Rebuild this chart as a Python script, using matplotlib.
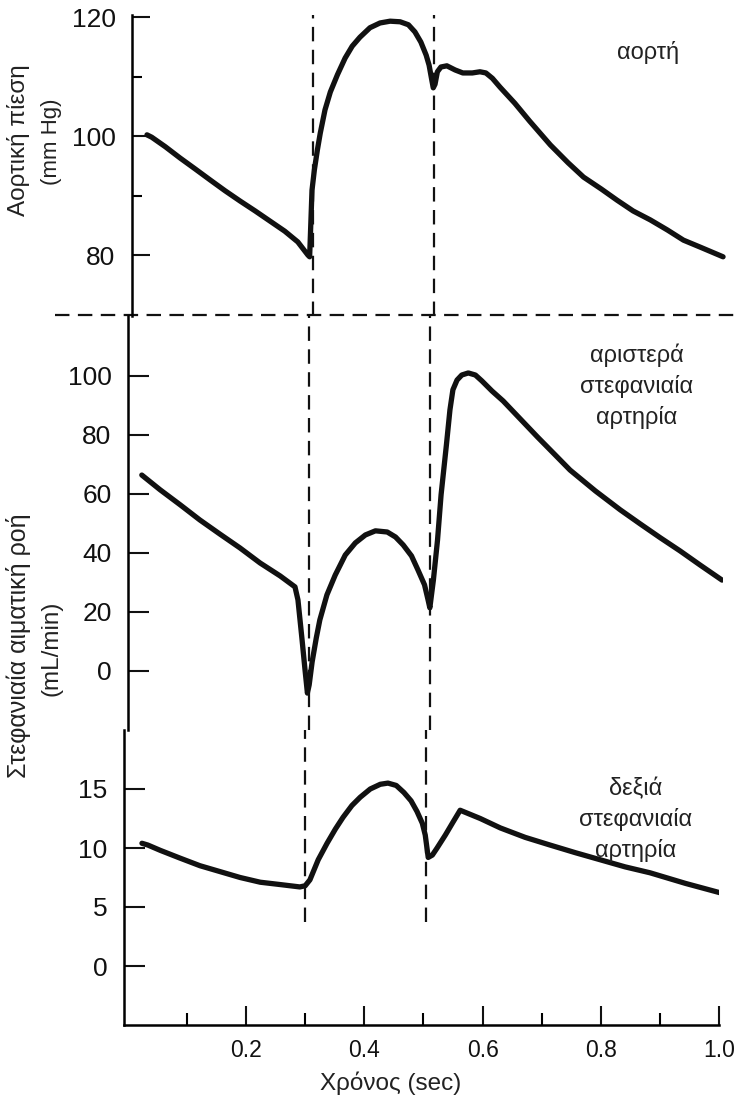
import matplotlib
matplotlib.use("Agg")
import matplotlib.pyplot as plt
from matplotlib.ticker import FixedLocator, NullFormatter

plt.rcParams['font.family'] = ['Liberation Sans', 'DejaVu Sans']

# === 数据 ===
aorta_t = [0.019, 0.027, 0.050, 0.075, 0.100, 0.126, 0.151, 0.176, 0.202, 0.227, 0.252,
           0.274, 0.291, 0.294, 0.298, 0.302, 0.307, 0.312, 0.320, 0.329, 0.341, 0.354,
           0.366, 0.379, 0.396, 0.413, 0.430, 0.447, 0.461, 0.472, 0.482, 0.491, 0.496,
           0.500, 0.503, 0.506, 0.510, 0.516, 0.526, 0.540, 0.553, 0.569, 0.582, 0.592,
           0.603, 0.616, 0.641, 0.666, 0.701, 0.731, 0.757, 0.787, 0.814, 0.841, 0.870,
           0.899, 0.926, 0.955, 0.993]
aorta_p = [100.2, 99.8, 98.2, 96.3, 94.5, 92.6, 90.8, 89.1, 87.4, 85.7, 84.0,
           82.2, 80.0, 79.7, 90.9, 94.3, 97.6, 100.5, 104.4, 107.4, 110.3, 113.1,
           115.1, 116.6, 118.2, 119.0, 119.3, 119.2, 118.7, 117.5, 115.8, 113.6, 111.9,
           109.7, 108.1, 108.7, 110.8, 111.6, 111.8, 111.1, 110.6, 110.6, 110.8, 110.6,
           109.7, 108.2, 105.5, 102.5, 98.5, 95.5, 93.1, 91.1, 89.2, 87.4, 85.9,
           84.2, 82.5, 81.3, 79.7]

left_t = [0.017, 0.048, 0.082, 0.115, 0.149, 0.183, 0.217, 0.251, 0.276, 0.281, 0.288,
          0.293, 0.297, 0.300, 0.305, 0.312, 0.318, 0.330, 0.344, 0.361, 0.378, 0.395,
          0.412, 0.432, 0.446, 0.459, 0.473, 0.484, 0.495, 0.501, 0.504, 0.510, 0.517,
          0.523, 0.532, 0.538, 0.543, 0.550, 0.558, 0.569, 0.581, 0.592, 0.609, 0.628,
          0.657, 0.686, 0.716, 0.741, 0.784, 0.826, 0.860, 0.894, 0.927, 0.961, 0.998]
left_q = [66.4, 61.4, 56.3, 51.2, 46.4, 41.7, 36.6, 32.2, 28.5, 24.1, 10.5,
          0.3, -7.5, -4.7, 3.1, 11.2, 17.3, 25.8, 32.5, 39.3, 43.4, 46.1,
          47.5, 47.1, 45.4, 42.7, 39.0, 34.2, 29.2, 24.1, 21.4, 30.8, 44.4,
          59.7, 76.6, 88.5, 95.3, 98.6, 100.3, 101.0, 100.3, 98.3, 94.9, 91.5,
          85.4, 79.3, 73.2, 68.1, 61.0, 54.6, 49.8, 45.1, 40.7, 35.9, 30.8]

right_t = [0.024, 0.034, 0.055, 0.088, 0.122, 0.156, 0.190, 0.224, 0.258, 0.291, 0.300,
           0.308, 0.322, 0.337, 0.351, 0.364, 0.379, 0.393, 0.410, 0.427, 0.440, 0.454,
           0.467, 0.479, 0.489, 0.498, 0.503, 0.508, 0.515, 0.523, 0.537, 0.550, 0.562,
           0.596, 0.630, 0.672, 0.714, 0.757, 0.799, 0.841, 0.883, 0.943, 1.002]
right_q = [10.4, 10.25, 9.8, 9.15, 8.5, 8.0, 7.5, 7.1, 6.9, 6.7, 6.8,
           7.3, 9.0, 10.4, 11.6, 12.6, 13.6, 14.3, 15.0, 15.4, 15.5, 15.3,
           14.7, 14.0, 13.1, 12.1, 11.1, 9.2, 9.4, 10.0, 11.1, 12.2, 13.2,
           12.5, 11.7, 10.9, 10.25, 9.6, 9.0, 8.4, 7.9, 7.0, 6.2]

events = [0.30, 0.505]
x_major = [0.2, 0.4, 0.6, 0.8, 1.0]
x_minor = [0.1, 0.3, 0.5, 0.7, 0.9]

W, H = 738, 1098
AXW = 595


def box(left_px, top_px, bottom_px):
    return [left_px / W, 1 - bottom_px / H, AXW / W, (bottom_px - top_px) / H]


def px(x, y):
    return x / W, 1 - y / H


fig = plt.figure(figsize=(W / 100, H / 100), dpi=100)
fig.patch.set_facecolor('white')

ax1 = fig.add_axes(box(132.2, 15, 316))
ax2 = fig.add_axes(box(128.2, 316, 730))
ax3 = fig.add_axes(box(124.2, 730, 1025))

line_kw = dict(color='#111111', lw=3.8, solid_capstyle='round', solid_joinstyle='round')
dash_kw = dict(color='#111111', lw=1.6, dashes=(6.5, 3.8))

ax1.plot(aorta_t, aorta_p, **line_kw)
ax2.plot(left_t, left_q, **line_kw)
ax3.plot(right_t, right_q, **line_kw)

for ax in (ax1, ax2, ax3):
    ax.set_xlim(-0.006, 1.0)
    ax.set_facecolor('none')
    for s in ('top', 'right'):
        ax.spines[s].set_visible(False)
    ax.spines['left'].set_linewidth(1.8)
    ax.tick_params(axis='y', direction='in', length=15, width=1.5, pad=12,
                   labelsize=19, colors='#111111')

for ax in (ax1, ax2):
    ax.spines['bottom'].set_visible(False)
    ax.set_xticks([])

ax1.set_ylim(69.75, 120.34)
ax1.set_yticks([80, 100, 120])
ax1.yaxis.set_minor_locator(FixedLocator([90, 110]))
ax1.yaxis.set_minor_formatter(NullFormatter())
ax1.tick_params(axis='y', which='major', length=13)
ax1.tick_params(axis='y', which='minor', direction='in', length=7, width=1.5)

ax2.set_ylim(-20, 120.3)
ax2.set_yticks([0, 20, 40, 60, 80, 100])

ax3.set_ylim(-5, 20)
ax3.set_yticks([0, 5, 10, 15])
ax3.spines['bottom'].set_linewidth(1.8)
ax3.set_xticks(x_major)
ax3.set_xticklabels(['0.2', '0.4', '0.6', '0.8', '1.0'])
ax3.xaxis.set_minor_locator(FixedLocator(x_minor))
ax3.tick_params(axis='x', which='major', direction='in', length=14, width=1.5,
                pad=10, labelsize=16.5, colors='#111111')
ax3.tick_params(axis='x', which='minor', direction='in', length=9, width=1.5)

# 虚线 (事件标记)
for t in events:
    ax1.axvline(t, **dash_kw)
    ax2.axvline(t, **dash_kw)
    ax3.axvline(t, ymin=0.35, **dash_kw)
ax1.axhline(69.9, xmin=-0.13, xmax=1.015, clip_on=False, **dash_kw)

# 文字
txt = dict(color='#222222', ha='center', va='center')
fig.text(*px(648, 52), 'αορτή', fontsize=17, **txt)
fig.text(*px(637, 386), 'αριστερά\nστεφανιαία\nαρτηρία', fontsize=17, linespacing=1.45, **txt)
fig.text(*px(636, 820), 'δεξιά\nστεφανιαία\nαρτηρία', fontsize=17, linespacing=1.45, **txt)

fig.text(*px(19, 140), 'Αορτική πίεση', fontsize=17.5, rotation=90, **txt)
fig.text(*px(52, 142), '(mm Hg)', fontsize=16, rotation=90, **txt)
fig.text(*px(19, 646), 'Στεφανιαία αιματική ροή', fontsize=18, rotation=90, **txt)
fig.text(*px(52, 648), '(mL/min)', fontsize=17.5, rotation=90, **txt)
fig.text(*px(391, 1083), 'Χρόνος (sec)', fontsize=17.5, **txt)

fig.savefig('out.png', dpi=100, facecolor='white')
